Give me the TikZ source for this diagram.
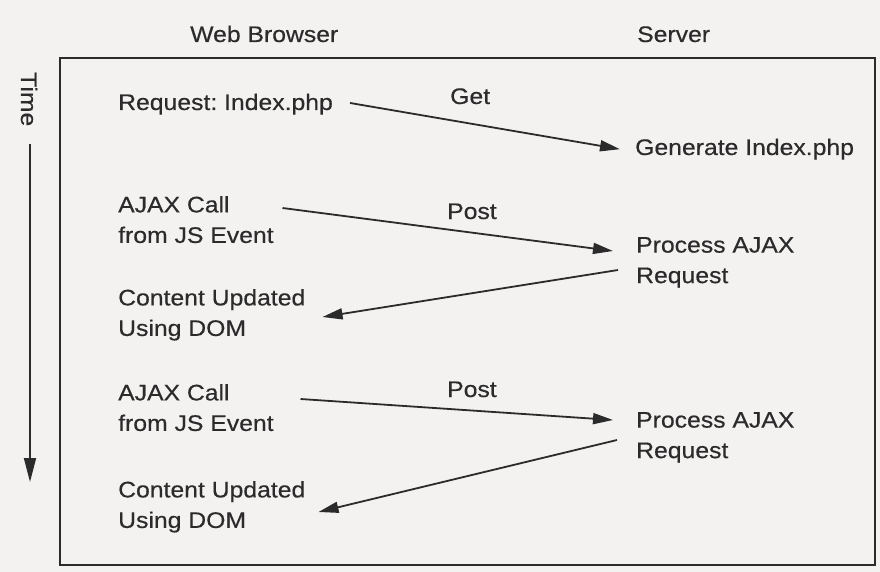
\documentclass[tikz,border=0pt]{standalone}
\usepackage{fontspec}
\setmainfont[FakeStretch=1.10,FakeBold=0.4]{Liberation Sans}
\usetikzlibrary{arrows.meta}
\definecolor{paper}{HTML}{F4F1F1}
\definecolor{ink}{HTML}{2B2B2B}
\frenchspacing
\tikzset{
  lbl/.style={inner sep=0pt, text=ink, font=\fontsize{22.5}{30.5}\selectfont},
  lbltwo/.style={lbl, align=left, anchor=north west},
  msg/.style={draw=ink, line width=1.8pt, -{Triangle[length=20pt,width=11pt]}},
  timearrow/.style={draw=ink, line width=1.8pt, -{Triangle[length=24pt,width=12pt]}},
  frame/.style={draw=ink, line width=1.7pt}
}
\begin{document}
\begin{tikzpicture}[x=1pt,y=-1pt]
\fill[paper] (0,0) rectangle (880,572);
\useasboundingbox (0,0) rectangle (880,572);
\draw[frame] (60,58) rectangle (875,565);

% column heads
\node[lbl, anchor=base west] (wb) at (190,42) {Web Browser};
\node[lbl, anchor=base west] (sv) at (637,42) {Server};

% time axis
\node[lbl, anchor=base west, rotate=-90] (time) at (21,72) {Time};
\coordinate (tend) at (30,482);
\draw[timearrow] (time.east -| tend) ++(0,18) -- (tend);

% first exchange
\node[lbl, anchor=base west] (req) at (118,110) {Request: Index.php};
\node[lbl, anchor=base west] (get) at (450,104) {Get};
\node[lbl, anchor=base west] (gen) at (635,155) {Generate Index.php};
\draw[msg] ([xshift=17pt,yshift=1.2pt]req.east) -- ([xshift=-15pt]gen.west);

% second exchange
\node[lbltwo] (a1) at (118,195.9) {AJAX Call\\from JS Event};
\node[lbl, anchor=base west] (post1) at (447,219) {Post};
\node[lbltwo] (p1) at (636,236.9) {Process AJAX\\Request};
\node[lbltwo] (c1) at (118,288.9) {Content Updated\\Using DOM};
\draw[msg] ([xshift=8.7pt,yshift=-12.1pt]a1.north east) -- ([xshift=-23pt,yshift=-14.1pt]p1.north west);
\draw[msg] ([xshift=-18pt,yshift=-33.1pt]p1.north west) -- ([xshift=17pt,yshift=-28.1pt]c1.north east);

% third exchange
\node[lbltwo] (a2) at (118,383.9) {AJAX Call\\from JS Event};
\node[lbl, anchor=base west] (post2) at (447,397) {Post};
\node[lbltwo] (p2) at (636,411.9) {Process AJAX\\Request};
\node[lbltwo] (c2) at (118,480.9) {Content Updated\\Using DOM};
\draw[msg] ([xshift=26.7pt,yshift=-15.1pt]a2.north east) -- ([xshift=-23pt,yshift=-8.1pt]p2.north west);
\draw[msg] ([xshift=-19pt,yshift=-28.1pt]p2.north west) -- ([xshift=13pt,yshift=-31.1pt]c2.north east);
\end{tikzpicture}
\end{document}
